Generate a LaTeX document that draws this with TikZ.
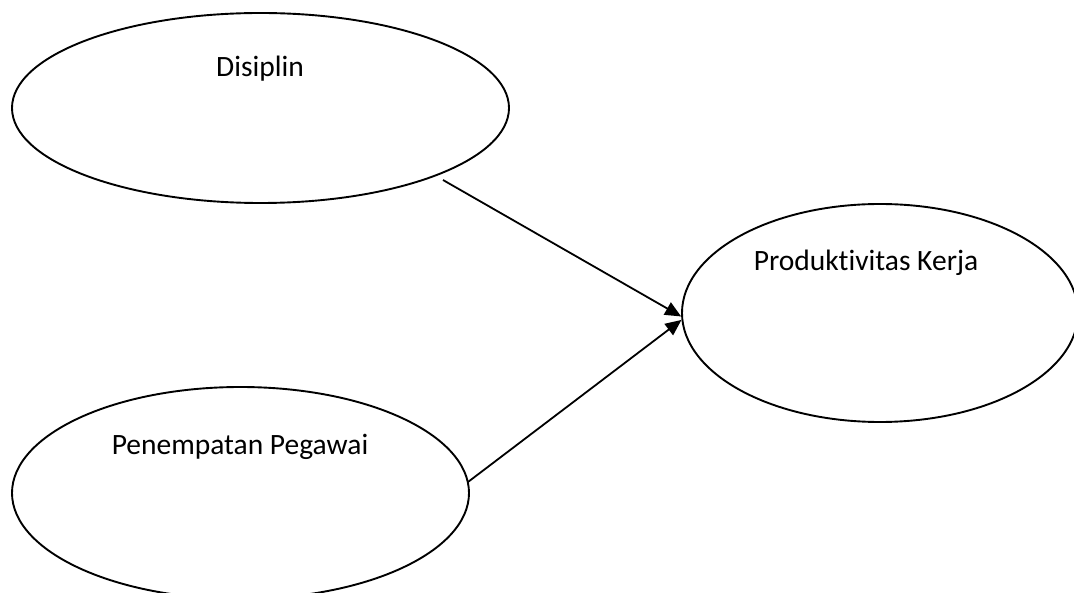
\documentclass[tikz,border=0pt]{standalone}
\usepackage{fontspec}
\setmainfont{Carlito}[RawFeature={-liga}]
\usetikzlibrary{shapes.geometric,arrows.meta}
\begin{document}
\begin{tikzpicture}[x=1pt,y=-1pt,
  var/.style={draw=black,ellipse,line width=1.9pt,inner sep=0pt,fill=none},
  lbl/.style={anchor=base,inner sep=0pt,font=\fontsize{29.5}{35}\selectfont},
  conn/.style={line width=1.8pt,-{Triangle[length=16pt,width=14pt]}}]
\useasboundingbox (0,0) rectangle (1074,593);
\node[var,minimum width=497pt,minimum height=190pt] (d) at (260.5,108) {};
\node[var,minimum width=457pt,minimum height=212pt] (g) at (240.5,493) {};
\node[var,minimum width=396pt,minimum height=218pt] (p) at (880,313) {};
\node[lbl] (td) at (260,77) {Disiplin};
\node[lbl] (tg) at (240,455) {Penempatan Pegawai};
\node[lbl] (tp) at (866,271) {Produktivitas Kerja};
\coordinate (s1) at (443,180);
\coordinate (s2) at (468,482);
\draw[conn] (s1) -- (p.181.5);
\draw[conn] (s2) -- (p.182.4);
\end{tikzpicture}
\end{document}
